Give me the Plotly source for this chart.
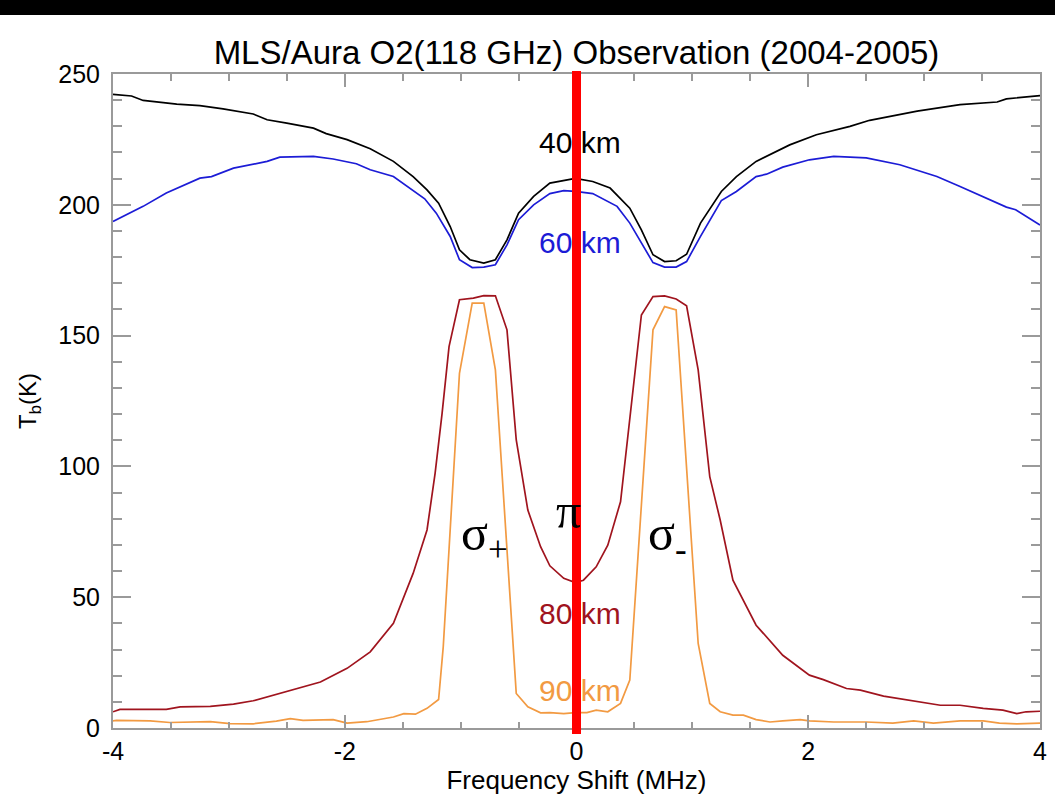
import plotly.graph_objects as go

# ---------------- data ----------------
freq_40 = [-4.00, -3.84, -3.74, -3.45, -3.25, -3.05, -2.79, -2.67, -2.50, -2.27, -2.16, -1.98,
           -1.78, -1.58, -1.41, -1.29, -1.19, -1.09, -1.01, -0.92, -0.80, -0.70, -0.60, -0.50,
           -0.37, -0.23, -0.01, 0.14, 0.29, 0.46, 0.56, 0.66, 0.76, 0.86, 0.95, 1.07, 1.25,
           1.38, 1.55, 1.84, 2.07, 2.36, 2.53, 2.79, 2.94, 3.31, 3.63, 3.71, 4.00]
tb_40 = [242.2, 241.6, 239.9, 238.5, 237.9, 236.7, 234.7, 232.5, 231.2, 229.3, 227.2, 224.9,
         221.4, 216.6, 210.8, 205.7, 200.6, 191.7, 182.8, 179.0, 177.7, 179.0, 186.6, 196.8,
         203.2, 208.3, 210.1, 208.9, 206.4, 198.7, 190.4, 180.9, 178.3, 178.6, 181.1, 193.0, 205.1,
         210.8, 216.6, 222.9, 226.8, 230.0, 232.3, 234.4, 235.8, 238.3, 239.3, 240.5, 241.7]

freq_60 = [-4.00, -3.74, -3.54, -3.25, -3.15, -2.96, -2.67, -2.56, -2.27, -2.10, -1.90, -1.78,
           -1.58, -1.31, -1.21, -1.09, -1.01, -0.90, -0.80, -0.70, -0.60, -0.50, -0.37, -0.23,
           -0.11, -0.01, 0.14, 0.35, 0.46, 0.56, 0.66, 0.76, 0.86, 0.95, 1.07, 1.25, 1.38, 1.55,
           1.64, 1.78, 2.01, 2.22, 2.50, 2.79, 3.02, 3.11, 3.31, 3.51, 3.71, 3.79, 4.00]
tb_60 = [193.6, 199.4, 204.5, 210.2, 210.8, 214.0, 216.6, 218.2, 218.5, 217.5, 215.7, 213.4,
         210.8, 202.3, 196.8, 187.9, 179.0, 176.0, 176.2, 177.1, 184.7, 194.3, 200.0, 204.3,
         205.4, 205.1, 204.3, 199.4, 193.0, 185.3, 177.9, 176.2, 176.2, 178.3, 187.9, 201.6, 205.1, 210.8,
         211.7, 214.4, 217.2, 218.5, 217.9, 215.3, 212.1, 210.8, 207.0, 203.2, 199.1, 198.1, 192.3]

freq_80 = [-4.00, -3.94, -3.54, -3.42, -3.16, -2.96, -2.79, -2.50, -2.21, -1.98, -1.78, -1.58,
           -1.41, -1.29, -1.22, -1.16, -1.10, -1.01, -0.89, -0.80, -0.70, -0.60, -0.52, -0.42,
           -0.31, -0.23, -0.11, -0.01, 0.06, 0.17, 0.27, 0.38, 0.46, 0.56, 0.66, 0.76, 0.86,
           0.95, 1.05, 1.15, 1.24, 1.35, 1.55, 1.78, 2.01, 2.13, 2.33, 2.45, 2.65, 2.82, 2.99,
           3.14, 3.31, 3.51, 3.68, 3.80, 3.88, 4.00]
tb_80 = [6.2, 7.1, 7.1, 8.1, 8.3, 9.1, 10.4, 14.1, 17.6, 22.8, 29.1, 40.0,
         59.1, 75.7, 97.4, 120.3, 145.8, 163.7, 164.3, 165.3, 165.2, 152.2, 110.1, 83.3,
         69.3, 62.0, 57.2, 55.6, 56.5, 61.6, 69.9, 86.5, 117.7, 157.9, 164.9, 165.2, 164.0,
         161.4, 136.9, 96.1, 79.5, 56.5, 39.3, 27.8, 20.2, 18.5, 15.1, 14.5, 12.2, 11.0, 9.6,
         8.7, 8.7, 7.5, 6.8, 5.5, 6.2, 6.4]

freq_90 = [-4.00, -3.97, -3.68, -3.51, -3.16, -2.99, -2.79, -2.59, -2.47, -2.36, -2.10, -1.98,
           -1.81, -1.58, -1.49, -1.39, -1.29, -1.19, -1.15, -1.01, -0.90, -0.80, -0.70, -0.52,
           -0.42, -0.31, -0.23, -0.11, -0.01, 0.09, 0.17, 0.27, 0.38, 0.46, 0.66, 0.76, 0.86,
           1.05, 1.15, 1.24, 1.35, 1.44, 1.55, 1.67, 1.78, 1.93, 2.01, 2.22, 2.50, 2.73, 2.91,
           3.08, 3.31, 3.51, 3.65, 3.80, 4.00]
tb_90 = [2.7, 2.9, 2.7, 2.1, 2.4, 1.7, 1.6, 2.6, 3.6, 2.9, 3.2, 1.9,
         2.4, 4.2, 5.5, 5.3, 7.5, 10.9, 31.0, 135.6, 162.4, 162.4, 136.9, 13.2,
         8.1, 5.8, 5.9, 5.5, 5.9, 5.9, 6.8, 6.2, 9.4, 18.3, 152.2, 161.1, 159.8,
         32.3, 9.4, 6.2, 4.9, 4.9, 3.2, 2.3, 2.7, 3.2, 2.7, 2.3, 2.3, 1.9, 2.7,
         1.9, 2.7, 2.7, 1.9, 1.6, 1.9]

series_names = ["40 km", "60 km", "80 km", "90 km"]
series_colors = ["#000000", "#1c1cd6", "#a0141e", "#f29a42"]
label_x = 0.03
label_y = [223.7, 185.5, 43.8, 14.5]

pi_freq = 0.0
greek_text = ["σ<sub>+</sub>", "π", "σ<sub>-</sub>"]
greek_x = [-1.01, -0.19, 0.60]
greek_y = [73.0, 83.0, 73.0]

x_ticks = [-4, -2, 0, 2, 4]
x_tick_text = ["-4", "-2", "0", "2", "4"]
y_ticks = [0, 50, 100, 150, 200, 250]

title_text = "MLS/Aura O2(118 GHz) Observation (2004-2005)"
x_title = "Frequency Shift (MHz)"
y_title = "T<sub>b</sub>(K)"

# ---------------- figure ----------------
W, Hpx = 1055, 800
ML, MR, MT, MB = 113, 15, 74, 72
PH = Hpx - MT - MB

fig = go.Figure()
for fr, tb, name, col in zip([freq_40, freq_60, freq_80, freq_90],
                             [tb_40, tb_60, tb_80, tb_90],
                             series_names, series_colors):
    fig.add_trace(go.Scatter(x=fr, y=tb, mode="lines", name=name,
                             line=dict(color=col, width=1.7), showlegend=False))

sans = "Liberation Sans, Arial, sans-serif"
serif = "Liberation Serif, Times New Roman, serif"

for name, col, ly in zip(series_names, series_colors, label_y):
    fig.add_annotation(x=label_x, y=ly, text=name, showarrow=False,
                       xanchor="center", yanchor="middle",
                       font=dict(family=sans, size=30, color=col))

for t, gx, gy in zip(greek_text, greek_x, greek_y):
    fig.add_annotation(x=gx, y=gy, text=t, showarrow=False,
                       xanchor="left", yanchor="middle",
                       font=dict(family=serif, size=50, color="black"))

# red line at zero frequency shift
fig.add_shape(type="line", xref="x", yref="paper", x0=pi_freq, x1=pi_freq,
              y0=-6 / PH, y1=1 + 3 / PH, line=dict(color="#ff0000", width=9), layer="above")

# black band at top of the image
fig.add_shape(type="rect", xref="paper", yref="paper", x0=-0.2, x1=1.1,
              y0=1 + (MT - 15) / PH, y1=1 + (MT + 5) / PH,
              fillcolor="black", line=dict(width=0), layer="above")

axis_common = dict(showline=True, linecolor="#9a9a9a", linewidth=2, mirror="allticks",
                   ticks="inside", tickcolor="#9a9a9a", tickwidth=1.5,
                   showgrid=False, zeroline=False, automargin=False,
                   tickfont=dict(family=sans, size=25, color="black"))

fig.update_xaxes(range=[-4, 4], tickvals=x_ticks, ticktext=x_tick_text, ticklen=13,
                 minor=dict(dtick=0.5, ticks="inside", ticklen=6.5, tickcolor="#9a9a9a",
                            tickwidth=1.5, showgrid=False),
                 title=dict(text=x_title, font=dict(family=sans, size=26, color="black"),
                            standoff=5),
                 ticklabelstandoff=0, **axis_common)
fig.update_yaxes(range=[0, 250], tickvals=y_ticks, ticklen=18,
                 minor=dict(dtick=10, ticks="inside", ticklen=9, tickcolor="#9a9a9a",
                            tickwidth=1.5, showgrid=False),
                 title=dict(text=y_title, font=dict(family=sans, size=24, color="black"),
                            standoff=15),
                 ticklabelstandoff=6, **axis_common)

fig.update_layout(
    width=W, height=Hpx,
    margin=dict(l=ML, r=MR, t=MT, b=MB, autoexpand=False),
    paper_bgcolor="white", plot_bgcolor="white",
    title=dict(text=title_text, x=(ML + (W - MR)) / 2 / W, xanchor="center",
               y=1 - 52 / Hpx, yanchor="middle", yref="container",
               font=dict(family=sans, size=33, color="black")),
)

fig.write_html("out.html")
